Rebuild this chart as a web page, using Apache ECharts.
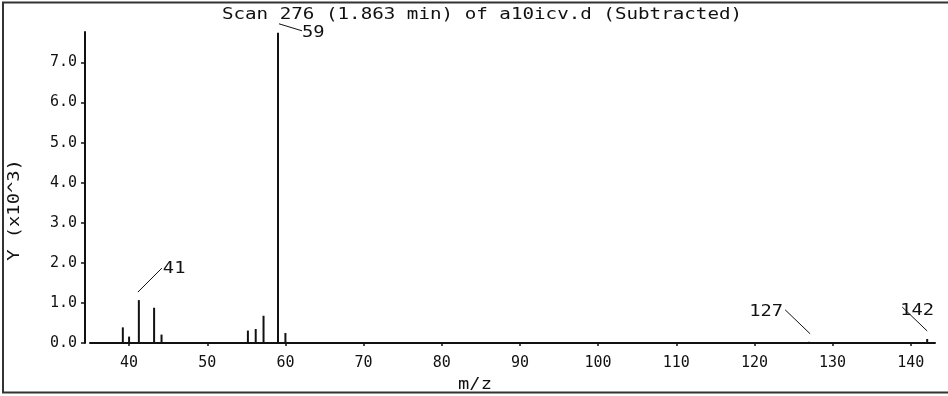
<!DOCTYPE html>
<html>
<head>
<meta charset="utf-8">
<script src="https://cdn.jsdelivr.net/npm/echarts@6/dist/echarts.min.js"></script>
<style>
html,body{margin:0;padding:0;background:#fff;}
#chart{width:948px;height:396px;}
</style>
</head>
<body>
<div id="chart"></div>
<script>
// ---- data ----
const mzValues = [39.2, 40.0, 41.25, 43.2, 44.15, 55.2, 56.2, 57.2, 59.05, 60.0, 127.0, 142.1];
const abundance = [0.39, 0.16, 1.07, 0.88, 0.21, 0.31, 0.35, 0.68, 7.74, 0.25, 0.03, 0.10]; // x10^3
const labeledIndex = [2, 8, 10, 11];
const peakLabels = ['41', '59', '127', '142'];
const xTicks = [40, 50, 60, 70, 80, 90, 100, 110, 120, 130, 140];
const yTicks = [0, 1, 2, 3, 4, 5, 6, 7];
const titleText = 'Scan 276 (1.863 min) of a10icv.d (Subtracted)';
const xName = 'm/z';
const yName = 'Y (x10^3)';

// ---- styling ----
const FONT = '15px "DejaVu Sans Mono"';
const INK = '#111';
const STRETCH = 1.25;
const callout = {
  '41':  { from: [-1, -8], to: [23, -32], text: [24, -31], align: 'left' },
  '59':  { from: [1, -9],  to: [24, -2],  text: [24, 0.5], align: 'left' },
  '127': { from: [1, -8],  to: [-24, -32], text: [-26, -30], align: 'right' },
  '142': { from: [0, -8],  to: [-25, -32], text: [-10, -28], align: 'center' }
};

const barData = mzValues.map((m, i) => [m, abundance[i]]);
const labelData = labeledIndex.map((i, k) => [mzValues[i], abundance[i], k]);

const chart = echarts.init(document.getElementById('chart'), null, { renderer: 'canvas' });
chart.setOption({
  backgroundColor: '#fff',
  animation: false,
  grid: { left: 90, right: 13, top: 32, bottom: 53 },
  xAxis: {
    type: 'value',
    min: 35,
    max: 143.1,
    offset: 6,
    axisLine: { show: true, lineStyle: { color: INK, width: 2 } },
    axisTick: { show: true, length: 3, customValues: xTicks, lineStyle: { color: INK, width: 1.5 } },
    axisLabel: { customValues: xTicks, margin: 7, color: INK, fontSize: 15, fontFamily: 'DejaVu Sans Mono' },
    splitLine: { show: false }
  },
  yAxis: {
    type: 'value',
    min: 0,
    max: 7.76,
    offset: 5,
    axisLine: { show: true, lineStyle: { color: INK, width: 2 } },
    axisTick: { show: true, length: 4, customValues: yTicks, lineStyle: { color: INK, width: 1.5 } },
    axisLabel: {
      customValues: yTicks, margin: 8, color: INK, fontSize: 15, fontFamily: 'DejaVu Sans Mono',
      formatter: v => v.toFixed(1)
    },
    splitLine: { show: false }
  },
  series: [
    {
      type: 'bar',
      data: barData,
      barWidth: 2,
      itemStyle: { color: INK },
      silent: true
    },
    {
      type: 'custom',
      data: labelData,
      clip: false,
      silent: true,
      renderItem: function (params, api) {
        const p = api.coord([api.value(0), api.value(1)]);
        const txt = peakLabels[api.value(2)];
        const s = callout[txt];
        return {
          type: 'group',
          children: [
            {
              type: 'line',
              shape: { x1: p[0] + s.from[0], y1: p[1] + s.from[1], x2: p[0] + s.to[0], y2: p[1] + s.to[1] },
              style: { stroke: INK, lineWidth: 1 }
            },
            {
              type: 'text',
              x: p[0] + s.text[0],
              y: p[1] + s.text[1],
              scaleX: STRETCH,
              style: { text: txt, font: FONT, fill: INK, align: s.align, verticalAlign: 'middle' }
            }
          ]
        };
      }
    }
  ],
  graphic: [
    {
      type: 'rect',
      shape: { x: 3, y: 2.5, width: 960, height: 390 },
      style: { fill: 'none', stroke: '#333', lineWidth: 2 },
      silent: true
    },
    {
      type: 'text', x: 482, y: 15, scaleX: 1.28,
      style: { text: titleText, font: FONT, fill: INK, align: 'center', verticalAlign: 'middle' }
    },
    {
      type: 'text', x: 475, y: 385, scaleX: STRETCH,
      style: { text: xName, font: FONT, fill: INK, align: 'center', verticalAlign: 'middle' }
    },
    {
      type: 'text', x: 15, y: 210, rotation: Math.PI / 2, scaleX: STRETCH,
      style: { text: yName, font: FONT, fill: INK, align: 'center', verticalAlign: 'middle' }
    }
  ]
});
</script>
</body>
</html>
